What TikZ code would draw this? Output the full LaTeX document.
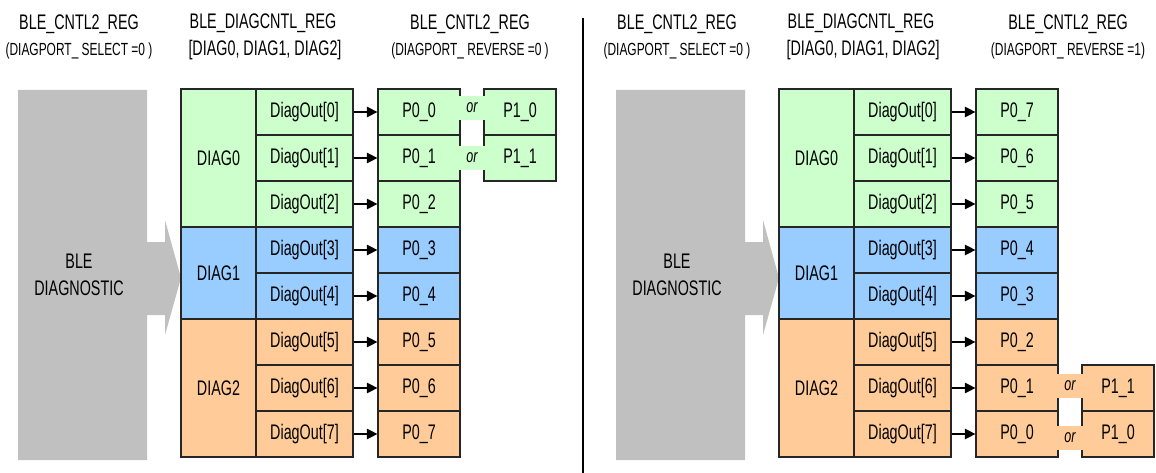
\documentclass[tikz,border=0pt]{standalone}
\usepackage{fontspec}
\setmainfont[FakeStretch=0.68]{Liberation Sans}
\usetikzlibrary{arrows.meta}

\definecolor{diagGreen}{HTML}{CCFFCC}
\definecolor{diagBlue}{HTML}{99CCFF}
\definecolor{diagOrange}{HTML}{FFCC99}
\definecolor{diagGray}{HTML}{C0C0C0}

\begin{document}
\begin{tikzpicture}[
    x=0.02cm, y=-0.02cm,
    >={Triangle[length=6pt, width=6pt]},
    % Register cells: thin dark outline, one row high
    cellStyle/.style={
        draw=black!85, line width=0.7pt, inner sep=0pt,
        minimum height=0.92cm,
        font=\fontsize{12}{14}\selectfont
    },
    diagStyle/.style={cellStyle, minimum width=1.5cm},
    outStyle/.style={cellStyle, minimum width=1.94cm},
    portStyle/.style={cellStyle, minimum width=1.64cm},
    altStyle/.style={cellStyle, minimum width=1.44cm},
    % "or" patch over the gap between two port cells, no border
    orStyle/.style={
        inner sep=0pt, minimum width=0.52cm, minimum height=0.48cm,
        font=\fontsize{10.5}{12}\selectfont\itshape
    },
    % Column titles
    headStyle/.style={
        align=center,
        font=\fontsize{12}{15}\selectfont
    },
    arrowStyle/.style={->, line width=0.7pt}
]
\useasboundingbox (0,0) rectangle (1156,473);

%--- Divider ---
\draw[line width=0.6pt] (583,18) -- (583,473);

%=======================
%   Left: REVERSE = 0
%=======================
%--- Titles ---
\node[headStyle] (lHeadSel) at (79,37)  {BLE\_CNTL2\_REG\\{\fontsize{10}{15}\selectfont (DIAGPORT\_ SELECT =0 )}};
\node[headStyle] (lHeadCtl) at (263,37) {BLE\_DIAGCNTL\_REG\\{} [DIAG0, DIAG1, DIAG2]};
\node[headStyle] (lHeadRev) at (470,37) {BLE\_CNTL2\_REG\\{\fontsize{10}{15}\selectfont (DIAGPORT\_ REVERSE =0 )}};

%--- Source block ---
\fill[diagGray] (18,90) -- (147,90) -- (147,242) -- (165,242) -- (165,220) -- (181,278)
  -- (165,335) -- (165,315) -- (147,315) -- (147,460) -- (18,460) -- cycle;
\node[headStyle] (lSrc) at (79,275) {BLE\\DIAGNOSTIC};

%--- DIAG groups ---
\node[diagStyle, fill=diagGreen,  minimum height=2.76cm] (lDiag0) at (218.5,158) {DIAG0};
\node[diagStyle, fill=diagBlue,   minimum height=1.84cm] (lDiag1) at (218.5,273) {DIAG1};
\node[diagStyle, fill=diagOrange, minimum height=2.76cm] (lDiag2) at (218.5,388) {DIAG2};

%--- DiagOut cells ---
\node[outStyle, fill=diagGreen]  (lOut0) at (304.5,112) {DiagOut[0]};
\node[outStyle, fill=diagGreen]  (lOut1) at (304.5,158) {DiagOut[1]};
\node[outStyle, fill=diagGreen]  (lOut2) at (304.5,204) {DiagOut[2]};
\node[outStyle, fill=diagBlue]   (lOut3) at (304.5,250) {DiagOut[3]};
\node[outStyle, fill=diagBlue]   (lOut4) at (304.5,296) {DiagOut[4]};
\node[outStyle, fill=diagOrange] (lOut5) at (304.5,342) {DiagOut[5]};
\node[outStyle, fill=diagOrange] (lOut6) at (304.5,388) {DiagOut[6]};
\node[outStyle, fill=diagOrange] (lOut7) at (304.5,434) {DiagOut[7]};

%--- Port cells ---
\node[portStyle, fill=diagGreen]  (lP0) at (419,112) {P0\_0};
\node[portStyle, fill=diagGreen]  (lP1) at (419,158) {P0\_1};
\node[portStyle, fill=diagGreen]  (lP2) at (419,204) {P0\_2};
\node[portStyle, fill=diagBlue]   (lP3) at (419,250) {P0\_3};
\node[portStyle, fill=diagBlue]   (lP4) at (419,296) {P0\_4};
\node[portStyle, fill=diagOrange] (lP5) at (419,342) {P0\_5};
\node[portStyle, fill=diagOrange] (lP6) at (419,388) {P0\_6};
\node[portStyle, fill=diagOrange] (lP7) at (419,434) {P0\_7};

%--- Alternative ports ---
\node[altStyle, fill=diagGreen] (lAlt0) at (520,112) {P1\_0};
\node[altStyle, fill=diagGreen] (lAlt1) at (520,158) {P1\_1};
\node[orStyle, fill=diagGreen]  (lOr0)  at (472,108) {or};
\node[orStyle, fill=diagGreen]  (lOr1)  at (472,158) {or};

%--- Edges ---
\draw[arrowStyle] (lOut0) -- (lP0);
\draw[arrowStyle] (lOut1) -- (lP1);
\draw[arrowStyle] (lOut2) -- (lP2);
\draw[arrowStyle] (lOut3) -- (lP3);
\draw[arrowStyle] (lOut4) -- (lP4);
\draw[arrowStyle] (lOut5) -- (lP5);
\draw[arrowStyle] (lOut6) -- (lP6);
\draw[arrowStyle] (lOut7) -- (lP7);

%=======================
%   Right: REVERSE = 1
%=======================
%--- Titles ---
\node[headStyle] (rHeadSel) at (677,37)  {BLE\_CNTL2\_REG\\{\fontsize{10}{15}\selectfont (DIAGPORT\_ SELECT =0 )}};
\node[headStyle] (rHeadCtl) at (861,37)  {BLE\_DIAGCNTL\_REG\\{} [DIAG0, DIAG1, DIAG2]};
\node[headStyle] (rHeadRev) at (1068,37) {BLE\_CNTL2\_REG\\{\fontsize{10}{15}\selectfont (DIAGPORT\_ REVERSE =1)}};

%--- Source block ---
\fill[diagGray] (616,90) -- (745,90) -- (745,242) -- (763,242) -- (763,220) -- (779,278)
  -- (763,335) -- (763,315) -- (745,315) -- (745,460) -- (616,460) -- cycle;
\node[headStyle] (rSrc) at (677,275) {BLE\\DIAGNOSTIC};

%--- DIAG groups ---
\node[diagStyle, fill=diagGreen,  minimum height=2.76cm] (rDiag0) at (816.5,158) {DIAG0};
\node[diagStyle, fill=diagBlue,   minimum height=1.84cm] (rDiag1) at (816.5,273) {DIAG1};
\node[diagStyle, fill=diagOrange, minimum height=2.76cm] (rDiag2) at (816.5,388) {DIAG2};

%--- DiagOut cells ---
\node[outStyle, fill=diagGreen]  (rOut0) at (902.5,112) {DiagOut[0]};
\node[outStyle, fill=diagGreen]  (rOut1) at (902.5,158) {DiagOut[1]};
\node[outStyle, fill=diagGreen]  (rOut2) at (902.5,204) {DiagOut[2]};
\node[outStyle, fill=diagBlue]   (rOut3) at (902.5,250) {DiagOut[3]};
\node[outStyle, fill=diagBlue]   (rOut4) at (902.5,296) {DiagOut[4]};
\node[outStyle, fill=diagOrange] (rOut5) at (902.5,342) {DiagOut[5]};
\node[outStyle, fill=diagOrange] (rOut6) at (902.5,388) {DiagOut[6]};
\node[outStyle, fill=diagOrange] (rOut7) at (902.5,434) {DiagOut[7]};

%--- Port cells (reversed) ---
\node[portStyle, fill=diagGreen]  (rP0) at (1017,112) {P0\_7};
\node[portStyle, fill=diagGreen]  (rP1) at (1017,158) {P0\_6};
\node[portStyle, fill=diagGreen]  (rP2) at (1017,204) {P0\_5};
\node[portStyle, fill=diagBlue]   (rP3) at (1017,250) {P0\_4};
\node[portStyle, fill=diagBlue]   (rP4) at (1017,296) {P0\_3};
\node[portStyle, fill=diagOrange] (rP5) at (1017,342) {P0\_2};
\node[portStyle, fill=diagOrange] (rP6) at (1017,388) {P0\_1};
\node[portStyle, fill=diagOrange] (rP7) at (1017,434) {P0\_0};

%--- Alternative ports ---
\node[altStyle, fill=diagOrange] (rAlt6) at (1118,388) {P1\_1};
\node[altStyle, fill=diagOrange] (rAlt7) at (1118,434) {P1\_0};
\node[orStyle, fill=diagOrange]  (rOr6)  at (1070,386) {or};
\node[orStyle, fill=diagOrange]  (rOr7)  at (1070,438) {or};

%--- Edges ---
\draw[arrowStyle] (rOut0) -- (rP0);
\draw[arrowStyle] (rOut1) -- (rP1);
\draw[arrowStyle] (rOut2) -- (rP2);
\draw[arrowStyle] (rOut3) -- (rP3);
\draw[arrowStyle] (rOut4) -- (rP4);
\draw[arrowStyle] (rOut5) -- (rP5);
\draw[arrowStyle] (rOut6) -- (rP6);
\draw[arrowStyle] (rOut7) -- (rP7);
\end{tikzpicture}
\end{document}
